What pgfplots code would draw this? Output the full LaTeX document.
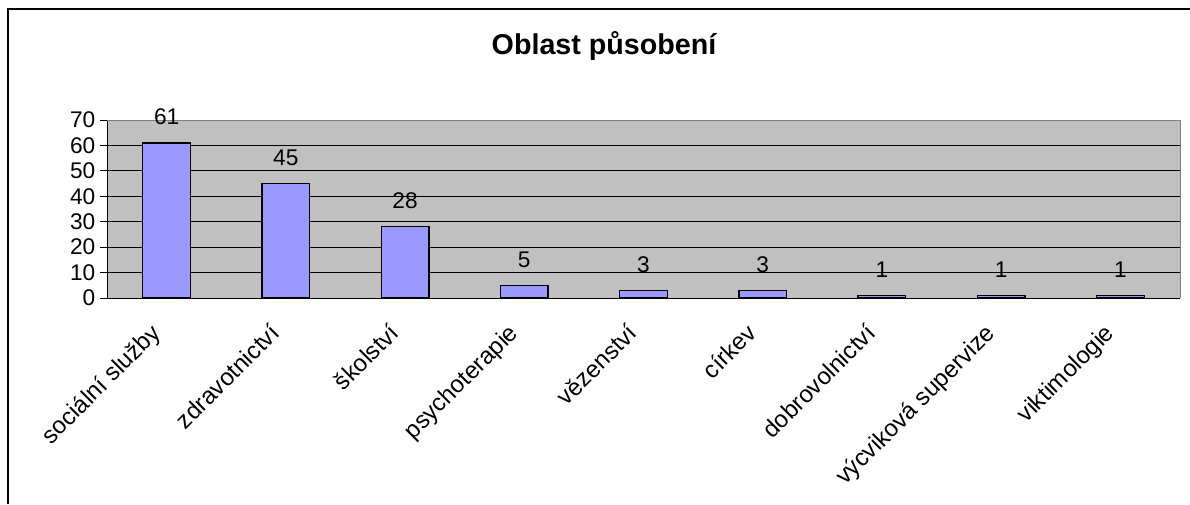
\documentclass[border=0pt]{standalone}
\usepackage{pgfplots}
\pgfplotsset{compat=1.18}
\usepackage{fontspec}
\setmainfont{Liberation Sans}
\definecolor{plotgray}{HTML}{C0C0C0}
\definecolor{barblue}{HTML}{9999FF}
\pgfplotsset{/pgf/number format/assume math mode=true}
\begin{document}
\begin{tikzpicture}
\useasboundingbox (0,0) rectangle (892.5pt,378pt);
\draw[line width=1.5pt] (6pt,0) -- (6pt,371.25pt) -- (892.5pt,371.25pt);
\node[font=\bfseries\fontsize{21.5}{24}\selectfont, anchor=base, inner sep=0pt] at (453pt,336.75pt) {Oblast působení};
\begin{axis}[
  at={(80.25pt,154.5pt)}, anchor=south west,
  scale only axis, width=804.75pt, height=133.5pt,
  xmin=-0.5, xmax=8.5, ymin=0, ymax=70,
  clip=false,
  ytick={0,10,...,70},
  ymajorgrids, grid style={black, line width=0.75pt},
  axis background/.style={fill=plotgray},
  axis x line*=bottom, axis y line*=left,
  axis line style={-, black, line width=0.75pt},
  tick align=outside, major tick length=5.25pt,
  tick style={black, line width=0.75pt},
  ticklabel style={font=\fontsize{17}{20}\selectfont},
  xtick={0,...,8},
  xticklabels={sociální služby, zdravotnictví, školství, psychoterapie, vězenství, církev, dobrovolnictví, výcviková supervize, viktimologie},
  x tick style={draw=none},
  xticklabel style={font=\fontsize{18}{20}\selectfont, xshift=-13pt, yshift=-8pt, rotate=45, anchor=north east},
  extra x ticks={-0.5,0.5,1.5,2.5,3.5,4.5,5.5,6.5,7.5,8.5},
  extra x tick labels={},
  extra x tick style={tick style={draw=black}},
  every node near coord/.append style={font=\fontsize{17}{20}\selectfont, anchor=base, yshift=13.5pt, black},
]
\addplot[ybar, bar width=0.4, fill=barblue, draw=black, line width=1pt, nodes near coords]
  coordinates {(0,61) (1,45) (2,28) (3,5) (4,3) (5,3) (6,1) (7,1) (8,1)};
\draw[gray, line width=0.75pt] (rel axis cs:0,1) -- (rel axis cs:1,1) -- (rel axis cs:1,0);
\end{axis}
\end{tikzpicture}
\end{document}
